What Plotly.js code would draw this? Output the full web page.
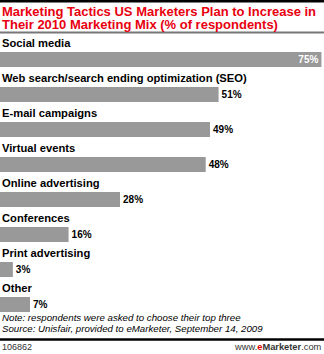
<!DOCTYPE html>
<html><head><meta charset="utf-8">
<script src="https://cdn.plot.ly/plotly-3.0.1.min.js"></script>
<style>html,body{margin:0;padding:0;background:#fff}#c{width:324px;height:354px}</style>
</head><body><div id="c"></div>
<script>
const categories = ["Social media","Web search/search ending optimization (SEO)","E-mail campaigns","Virtual events","Online advertising","Conferences","Print advertising","Other"];
const values = [75,51,49,48,28,16,3,7];
const valueLabels = values.map(v => v + "%");
const titleLines = ["Marketing Tactics US Marketers Plan to Increase in", "Their 2010 Marketing Mix (% of respondents)"];
const noteLines = ["Note: respondents were asked to choose their top three", "Source: Unisfair, provided to eMarketer, September 14, 2009"];
const footerId = "106862";

const H = 354, T = 42, B = 32, PH = H - T - B;
const py = p => (H - B - p) / PH;
const SANS = "Liberation Sans, Arial, sans-serif";

const annotations = categories.map((c, i) => ({
  xref: "paper", yref: "y", x: 0, y: i - 0.24, xanchor: "left", yanchor: "bottom",
  text: "<b>" + c + "</b>", showarrow: false, font: {family: SANS, size: 11.2, color: "#000"}
}));
[11.5, 24.5].forEach((p, i) => annotations.push({xref: "paper", yref: "paper", x: 0, y: py(p), xanchor: "left", yanchor: "middle",
  text: "<b>" + titleLines[i] + "</b>", showarrow: false,
  font: {family: SANS, size: 13, color: "#e8000f"}}));
[317, 328].forEach((p, i) => annotations.push({xref: "paper", yref: "paper", x: 0, y: py(p), xanchor: "left", yanchor: "middle",
  text: "<i>" + noteLines[i] + "</i>", showarrow: false,
  font: {family: SANS, size: 9.7, color: "#000"}}));
annotations.push({xref: "paper", yref: "paper", x: 0, y: py(346.5), xanchor: "left", yanchor: "middle",
  text: footerId, showarrow: false, font: {family: SANS, size: 9, color: "#333"}});
annotations.push({xref: "paper", yref: "paper", x: 1, y: py(346.5), xanchor: "right", yanchor: "middle",
  text: "www.<b><span style='color:#e00000'>e</span>Marketer</b>.com", showarrow: false,
  font: {family: SANS, size: 9.3, color: "#333"}});

const data = [{
  type: "bar", orientation: "h", x: values, y: categories,
  marker: {color: "#999999"}, width: 0.43,
  text: valueLabels.map(t => "<b>" + t + "</b>"),
  textposition: values.map((v, i) => i === 0 ? "inside" : "outside"),
  insidetextanchor: "end", constraintext: "none",
  insidetextfont: {family: SANS, size: 10, color: "#fff"},
  outsidetextfont: {family: SANS, size: 10, color: "#000"},
  cliponaxis: false, hoverinfo: "none"
}];

const layout = {
  width: 324, height: 354,
  margin: {l: 0, r: 0, t: T, b: B, pad: 0},
  paper_bgcolor: "#fff", plot_bgcolor: "#fff",
  showlegend: false,
  xaxis: {range: [0, 75.6], visible: false, fixedrange: true},
  yaxis: {type: "category", autorange: false, range: [7.5, -0.5], visible: false, fixedrange: true},
  annotations: annotations,
  shapes: [
    {type: "rect", xref: "paper", yref: "paper", x0: 0, x1: 1, y0: py(2.5), y1: py(0), fillcolor: "#000", line: {width: 0}},
    {type: "line", xref: "paper", yref: "paper", x0: 0, x1: 1, y0: py(32.5), y1: py(32.5), line: {color: "#777", width: 2}},
    {type: "line", xref: "paper", yref: "paper", x0: 0, x1: 1, y0: py(339.5), y1: py(339.5), line: {color: "#000", width: 2.5}}
  ]
};
Plotly.newPlot("c", data, layout, {staticPlot: true, displayModeBar: false});
</script></body></html>
